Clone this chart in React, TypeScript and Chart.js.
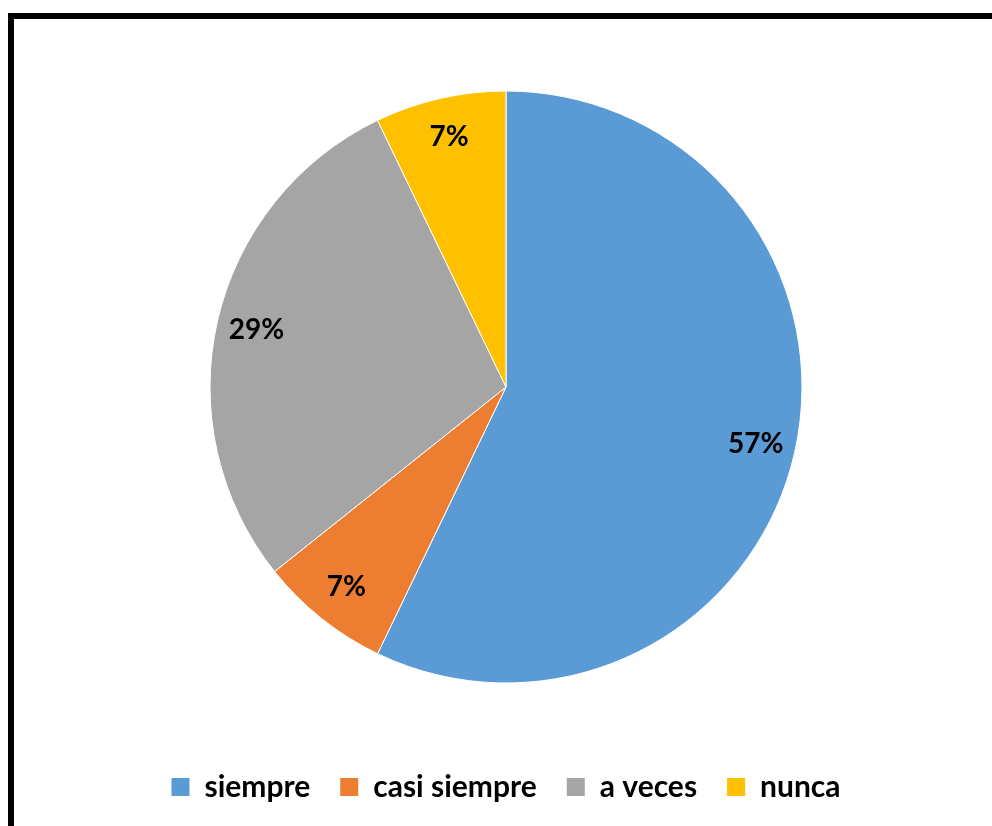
import React, { useEffect, useRef } from "react";
import { Chart, registerables } from "chart.js";

Chart.register(...registerables);

const categories = ["siempre", "casi siempre", "a veces", "nunca"];
const counts = [8, 1, 4, 1];
const percentLabels = ["57%", "7%", "29%", "7%"];
const colors = ["#5B9BD5", "#ED7D31", "#A5A5A5", "#FFC000"];

const FONT = "Lato, 'Open Sans', 'DejaVu Sans', sans-serif";

const labelPlugin = {
  id: "sliceLabels",
  afterDatasetsDraw(chart: any) {
    const meta = chart.getDatasetMeta(0);
    const ctx = chart.ctx;
    ctx.save();
    ctx.font = `bold 28px ${FONT}`;
    ctx.fillStyle = "#000";
    ctx.textAlign = "center";
    ctx.textBaseline = "middle";
    meta.data.forEach((arc: any, i: number) => {
      const { x, y, startAngle, endAngle, outerRadius } = arc.getProps(
        ["x", "y", "startAngle", "endAngle", "outerRadius"],
        true
      );
      const mid = (startAngle + endAngle) / 2;
      const r = outerRadius * 0.865;
      ctx.fillText(percentLabels[i], x + Math.cos(mid) * r, y + Math.sin(mid) * r);
    });
    ctx.restore();
  },
};

export default function App() {
  const ref = useRef<HTMLCanvasElement | null>(null);
  useEffect(() => {
    if (!ref.current) return;
    const chart = new Chart(ref.current, {
      type: "pie",
      data: {
        labels: categories,
        datasets: [
          {
            data: counts,
            backgroundColor: colors,
            borderColor: "#ffffff",
            borderWidth: 1,
            radius: 296,
          } as any,
        ],
      },
      options: {
        animation: false,
        responsive: false,
        events: [],
        layout: { padding: { top: 13, bottom: 14, left: 0, right: 0 } },
        plugins: {
          tooltip: { enabled: false },
          legend: {
            position: "bottom",
            labels: {
              boxWidth: 18,
              boxHeight: 18,
              padding: 30,
              color: "#000",
              font: { family: FONT, size: 30, weight: "bold" },
              generateLabels(c: any) {
                const items = Chart.overrides.pie.plugins.legend.labels.generateLabels(c);
                return items.map((it: any) => ({ ...it, lineWidth: 0, strokeStyle: "rgba(0,0,0,0)" }));
              },
            },
          },
        },
      },
      plugins: [labelPlugin],
    });
    return () => chart.destroy();
  }, []);

  return (
    <div
      style={{
        position: "fixed",
        left: 0,
        top: 0,
        width: 992,
        height: 826,
        overflow: "hidden",
        background: "#fff",
      }}
    >
      <div
        style={{
          position: "absolute",
          left: 8,
          top: 13,
          width: 1000,
          height: 830,
          borderLeft: "6px solid #000",
          borderTop: "6px solid #000",
        }}
      >
        <canvas ref={ref} width={984} height={807} style={{ display: "block" }} />
      </div>
    </div>
  );
}
